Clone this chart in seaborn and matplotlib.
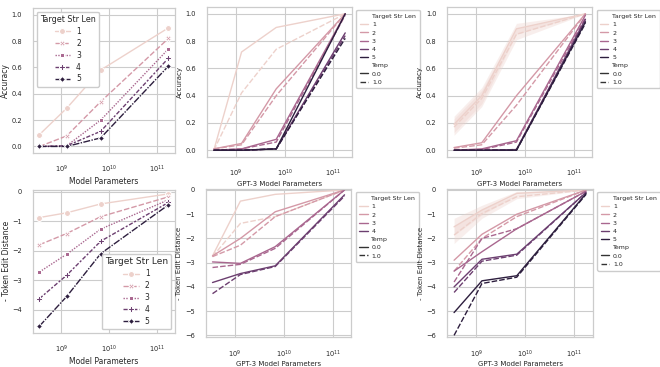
import numpy as np
import pandas as pd
import matplotlib
matplotlib.use("Agg")
import matplotlib.pyplot as plt
import seaborn as sns

# model sizes (GPT-3: 350M, 1.3B, 6.7B, 175B)
params = [3.5e8, 1.3e9, 6.7e9, 1.75e11]

# top-left: accuracy, one run per size, rows = target str len 1..5
acc_small = [[0.09, 0.29, 0.58, 0.90],
             [0.00, 0.08, 0.34, 0.82],
             [0.00, 0.005, 0.20, 0.74],
             [0.00, 0.005, 0.115, 0.67],
             [0.00, 0.00, 0.065, 0.61]]

# bottom-left: negative token edit distance
ed_small = [[-0.88, -0.72, -0.42, -0.08],
            [-1.80, -1.42, -0.85, -0.18],
            [-2.72, -2.12, -1.27, -0.28],
            [-3.62, -2.83, -1.68, -0.37],
            [-4.55, -3.55, -2.10, -0.45]]

# top-middle: GPT-3 accuracy, temp 0.0 and temp 1.0
acc_mid_t0 = [[0.00, 0.72, 0.90, 1.00],
              [0.01, 0.05, 0.45, 1.00],
              [0.00, 0.01, 0.08, 1.00],
              [0.00, 0.00, 0.01, 0.86],
              [0.00, 0.00, 0.01, 1.00]]
acc_mid_t1 = [[0.00, 0.42, 0.74, 1.00],
              [0.01, 0.04, 0.40, 1.00],
              [0.00, 0.01, 0.06, 0.99],
              [0.00, 0.00, 0.01, 0.84],
              [0.00, 0.00, 0.01, 0.82]]

# top-right: GPT-3 accuracy, second setting
acc_big_t0 = [[0.19, 0.40, 0.89, 1.00],
              [0.02, 0.055, 0.40, 1.00],
              [0.00, 0.01, 0.07, 0.99],
              [0.00, 0.00, 0.005, 0.96],
              [0.00, 0.00, 0.00, 0.94]]
acc_big_t1 = [[0.17, 0.38, 0.85, 1.00],
              [0.015, 0.04, 0.33, 1.00],
              [0.00, 0.005, 0.06, 0.97],
              [0.00, 0.00, 0.005, 0.95],
              [0.00, 0.00, 0.00, 0.93]]
acc_big_len1_band = [0.06, 0.06, 0.04, 0.0]

# bottom-middle: GPT-3 edit distance (only len 1..4)
ed_mid_t0 = [[-2.72, -0.46, -0.18, 0.00],
             [-2.72, -2.00, -0.90, 0.00],
             [-2.97, -3.03, -2.34, 0.00],
             [-3.82, -3.45, -3.13, -0.20]]
ed_mid_t1 = [[-2.75, -1.38, -1.10, 0.00],
             [-2.75, -2.28, -1.10, 0.00],
             [-3.20, -3.07, -2.41, 0.00],
             [-4.28, -3.49, -3.16, -0.25]]

# bottom-right: GPT-3 edit distance, second setting
ed_big_t0 = [[-1.52, -0.83, -0.14, 0.00],
             [-2.90, -1.83, -1.00, 0.00],
             [-3.35, -2.55, -1.60, -0.05],
             [-4.00, -2.86, -2.65, -0.10],
             [-5.06, -3.75, -3.54, -0.15]]
ed_big_t1 = [[-1.86, -0.97, -0.28, 0.00],
             [-3.35, -2.00, -1.10, 0.00],
             [-3.80, -2.00, -1.60, -0.05],
             [-4.23, -2.94, -2.69, -0.10],
             [-6.00, -3.86, -3.60, -0.18]]
ed_big_len1_band = [0.35, 0.20, 0.08, 0.0]


def long_form(rows_t0, rows_t1=None):
    recs = []
    for temp, rows in [(0.0, rows_t0), (1.0, rows_t1)]:
        if rows is None:
            continue
        for i, row in enumerate(rows):
            for p, v in zip(params, row):
                recs.append({"params": p, "value": v,
                             "Target Str Len": i + 1, "Temp": temp})
    return pd.DataFrame(recs)


sns.set_theme(style="whitegrid")
plt.rcParams.update({
    "font.family": ["DejaVu Sans"],
    "xtick.labelsize": 4.8,
    "ytick.labelsize": 4.8,
    "axes.labelsize": 5.5,
    "grid.linewidth": 0.8,
    "axes.linewidth": 0.9,
    "xtick.major.pad": 2,
    "ytick.major.pad": 2,
})

cmap = sns.color_palette("ch:", as_cmap=True)

fig = plt.figure(figsize=(6.6, 3.67), dpi=100)
ax1 = fig.add_axes([0.050, 0.583, 0.215, 0.395])
ax2 = fig.add_axes([0.314, 0.572, 0.219, 0.409])
ax3 = fig.add_axes([0.678, 0.572, 0.219, 0.409])
ax4 = fig.add_axes([0.050, 0.093, 0.215, 0.390])
ax5 = fig.add_axes([0.312, 0.081, 0.220, 0.404])
ax6 = fig.add_axes([0.678, 0.081, 0.220, 0.404])

# small model panels, with markers
for ax, rows, ylab, loc, tsize in [(ax1, acc_small, "Accuracy", "upper left", 5.8),
                                   (ax4, ed_small, "- Token Edit Distance", "lower right", 6.5)]:
    ax.set_xscale("log")
    sns.lineplot(data=long_form(rows), x="params", y="value",
                 hue="Target Str Len", style="Target Str Len",
                 markers=True, dashes=True, palette=cmap, hue_norm=(1, 5),
                 linewidth=1.0, markersize=4.3, legend="full", ax=ax)
    ax.set_xlabel("Model Parameters", labelpad=1)
    ax.set_ylabel(ylab, labelpad=1)
    sns.move_legend(ax, loc, fontsize=5.5, title_fontsize=tsize,
                    handlelength=2, labelspacing=0.38, borderpad=0.4,
                    framealpha=1)

# GPT-3 panels, temp as line style
panels = [(ax2, acc_mid_t0, acc_mid_t1, "Accuracy", None),
          (ax3, acc_big_t0, acc_big_t1, "Accuracy", acc_big_len1_band),
          (ax5, ed_mid_t0, ed_mid_t1, "- Token Edit Distance", None),
          (ax6, ed_big_t0, ed_big_t1, "- Token Edit Distance", ed_big_len1_band)]
for ax, r0, r1, ylab, band in panels:
    ax.set_xscale("log")
    sns.lineplot(data=long_form(r0, r1), x="params", y="value",
                 hue="Target Str Len", style="Temp",
                 palette=cmap, hue_norm=(1, 5), linewidth=1.0,
                 legend="full", ax=ax)
    if band is not None:
        for rows in (r0, r1):
            lo = np.array(rows[0]) - np.array(band)
            hi = np.array(rows[0]) + np.array(band)
            ax.fill_between(params, lo, hi, color=cmap(0.0), alpha=0.35,
                            linewidth=0)
    ax.set_xlabel("GPT-3 Model Parameters", fontsize=5, labelpad=1)
    ax.set_ylabel(ylab, fontsize=5, labelpad=2)
    sns.move_legend(ax, "upper left", bbox_to_anchor=(1.01, 1.0),
                    fontsize=4.5, handlelength=1.3, labelspacing=0.45,
                    borderpad=0.6, handletextpad=0.6, framealpha=1)

for ax in (ax1, ax2, ax3):
    ax.set_ylim(-0.05, 1.05)
    ax.set_yticks([0.0, 0.2, 0.4, 0.6, 0.8, 1.0])
ax4.set_ylim(-4.78, 0.06)
for ax in (ax5, ax6):
    ax.set_ylim(-6.08, 0.04)
    ax.set_yticks([0, -1, -2, -3, -4, -5, -6])

fig.savefig("out.png", dpi=100)
